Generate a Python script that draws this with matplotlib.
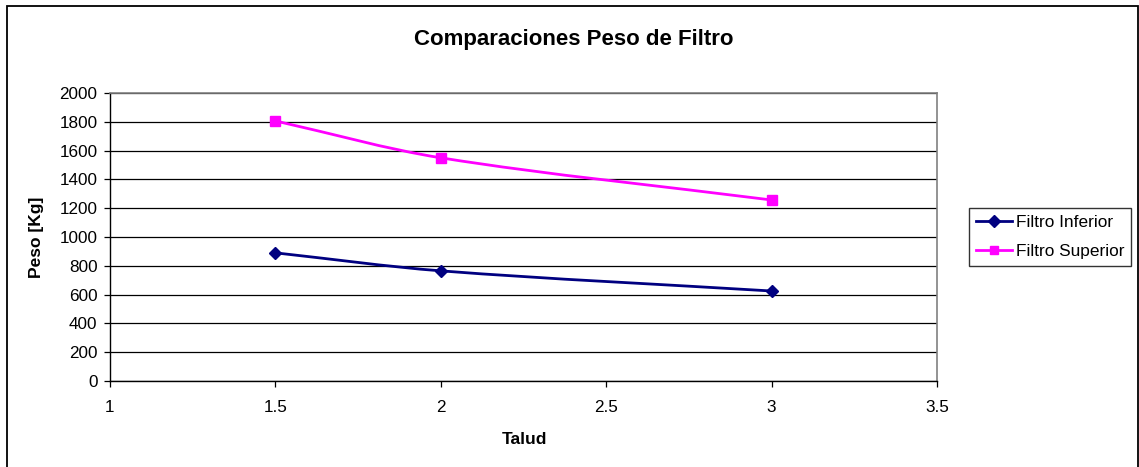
import matplotlib
matplotlib.use("Agg")
import matplotlib.pyplot as plt
from matplotlib.path import Path
from matplotlib.patches import PathPatch, Rectangle
from matplotlib.lines import Line2D

talud = [1.5, 2, 3]
filtro_inferior = [890, 765, 625]
filtro_superior = [1806, 1550, 1257]
series_names = ["Filtro Inferior", "Filtro Superior"]

plt.rcParams["font.family"] = ["Liberation Sans", "DejaVu Sans"]


def smooth_path(xs, ys):
    # cubic bezier through the points (smoothed line), tangents from neighbours
    n = len(xs)
    slopes = []
    for i in range(n):
        a = max(i - 1, 0)
        b = min(i + 1, n - 1)
        slopes.append((ys[b] - ys[a]) / (xs[b] - xs[a]))
    verts = [(xs[0], ys[0])]
    codes = [Path.MOVETO]
    for i in range(n - 1):
        h = (xs[i + 1] - xs[i]) / 3
        verts += [(xs[i] + h, ys[i] + slopes[i] * h),
                  (xs[i + 1] - h, ys[i + 1] - slopes[i + 1] * h),
                  (xs[i + 1], ys[i + 1])]
        codes += [Path.CURVE4] * 3
    return Path(verts, codes)


fig = plt.figure(figsize=(11.39, 4.67), dpi=100)
ax = fig.add_axes([110 / 1139, 1 - 381 / 467, 827 / 1139, 288 / 467])

styles = [("#000080", "D", 6.5), ("#FF00FF", "s", 6.5)]
handles = []
for ys, (col, mk, ms), name in zip([filtro_inferior, filtro_superior], styles, series_names):
    ax.add_patch(PathPatch(smooth_path(talud, ys), facecolor="none", edgecolor=col,
                           lw=2.0, zorder=3))
    ax.plot(talud, ys, linestyle="none", marker=mk, color=col, ms=ms, zorder=4)
    handles.append(Line2D([], [], color=col, lw=2.0, marker=mk, ms=ms - 0.5, label=name))

ax.set_xlim(1, 3.5)
ax.set_ylim(0, 2000)
ax.set_xticks([1, 1.5, 2, 2.5, 3, 3.5])
ax.set_xticklabels(["1", "1.5", "2", "2.5", "3", "3.5"])
ax.set_yticks(range(0, 2001, 200))
ax.yaxis.grid(True, color="black", lw=0.9)
ax.set_axisbelow(True)
ax.tick_params(axis="both", direction="out", length=4, width=0.9, labelsize=12.3, colors="black")
ax.tick_params(axis="y", pad=5)
ax.tick_params(axis="x", pad=10)

for s in ["left", "bottom"]:
    ax.spines[s].set_color("black")
    ax.spines[s].set_linewidth(1.0)
for s in ["top", "right"]:
    ax.spines[s].set_color("#808080")
    ax.spines[s].set_linewidth(1.2)

fig.text(574 / 1139, 1 - 40 / 467, "Comparaciones Peso de Filtro", ha="center", va="center",
         fontsize=16, fontweight="bold")
fig.text(524 / 1139, 1 - 440 / 467, "Talud", ha="center", va="center",
         fontsize=12.5, fontweight="bold")
fig.text(37 / 1139, 1 - 237 / 467, "Peso [Kg]", ha="center", va="center", rotation=90,
         fontsize=12.5, fontweight="bold")

leg = fig.legend(handles=handles, loc="upper left", bbox_to_anchor=(969 / 1139, 1 - 208 / 467),
                 fontsize=12.4, frameon=True, fancybox=False, shadow=False, borderaxespad=0,
                 handlelength=2.1, handletextpad=0.2, labelspacing=0.8, borderpad=0.4)
leg.get_frame().set_edgecolor("black")
leg.get_frame().set_linewidth(1.0)

# outer chart border
fig.patches.append(Rectangle((7 / 1139, -0.02), 1131 / 1139, 1.007, transform=fig.transFigure,
                             fill=False, edgecolor="black", lw=1.3))

fig.savefig("out.png", dpi=100)
